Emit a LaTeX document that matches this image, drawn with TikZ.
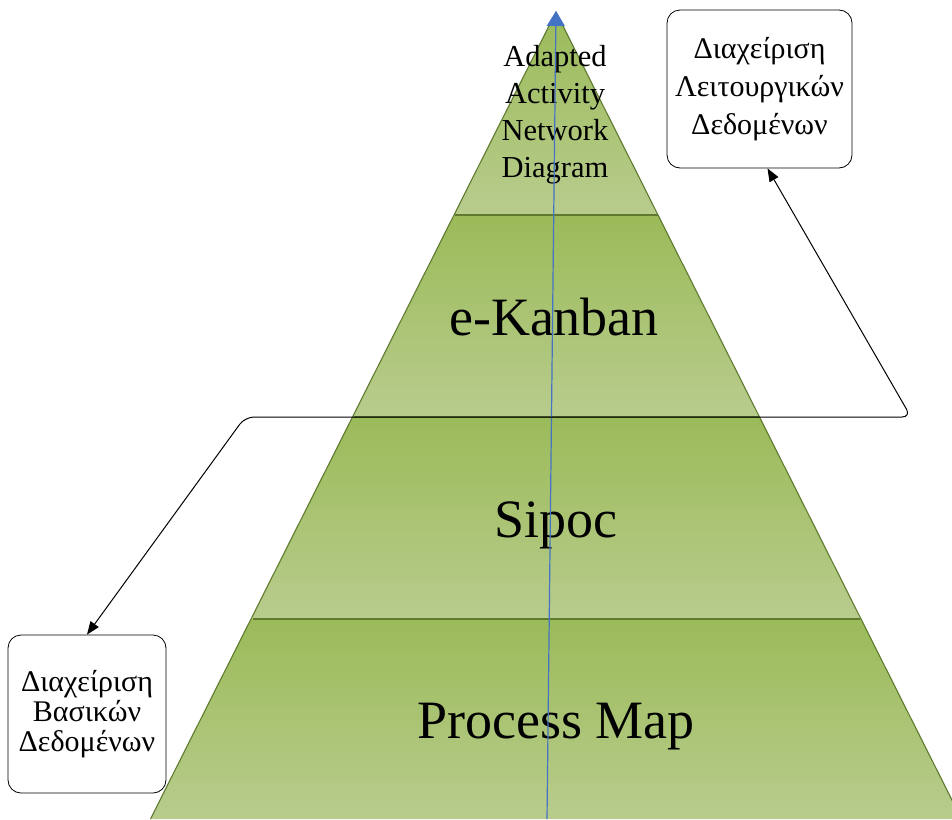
\documentclass[tikz,border=0pt]{standalone}
\usepackage{fontspec}
\setmainfont{Liberation Serif}
\usetikzlibrary{arrows.meta}
\definecolor{bandtop}{HTML}{9BBB59}
\definecolor{bandbot}{HTML}{B8CC8D}
\definecolor{tieredge}{HTML}{5F7A2F}
\definecolor{axisblue}{HTML}{4472C4}
\begin{document}
\begin{tikzpicture}[x=1pt,y=-1pt,
  caption/.style={font=\fontsize{30.5}{37}\selectfont, align=center, inner sep=0pt},
  tier/.style={font=\fontsize{54}{60}\selectfont, inner sep=0pt, anchor=base},
  infobox/.style={draw, rounded corners=13pt, line width=0.8pt, align=center,
    inner sep=0pt, font=\fontsize{30}{38}\selectfont},
  link/.style={line width=1pt, rounded corners=9pt,
    {Triangle[width=10pt,length=13pt]}-{Triangle[width=10pt,length=13pt]}},
  tierline/.style={draw=tieredge, line width=1.1pt}]
\useasboundingbox (0,0) rectangle (952,819);

% pyramid bands, each shaded from dark (top) to light (bottom)
\begin{scope}
  \clip (556,12) -- (150.5,819) -- (961.5,819) -- cycle;
  \shade[top color=bandtop, bottom color=bandbot] (100,12) rectangle (1000,215);
  \shade[top color=bandtop, bottom color=bandbot] (100,215) rectangle (1000,417);
  \shade[top color=bandtop, bottom color=bandbot] (100,417) rectangle (1000,619);
  \shade[top color=bandtop, bottom color=bandbot] (100,619) rectangle (1000,819);
\end{scope}
\draw[tierline] (150.5,819) -- (556,12) -- (961.5,819);
\draw[tierline] (454.5,215) -- (657.5,215);
\draw[tierline] (353.5,417) -- (758.5,417);
\draw[tierline] (252.5,619) -- (859.5,619);

% tier labels
\node[caption] (aand) at (555,115) {Adapted\\Activity\\Network\\Diagram};
\node[tier] (kanban) at (554,335) {e-Kanban};
\node[tier] (sipoc) at (556,537) {Sipoc};
\node[tier] (pmap) at (556,738) {Process Map};

% vertical axis through the pyramid
\coordinate (apex) at (556,11);
\coordinate (axisfoot) at (547,819);
\draw[axisblue, line width=1.2pt, -{Triangle[width=18pt,length=15pt]}] (axisfoot) -- (apex);

% data management boxes
\node[infobox, minimum width=185pt, minimum height=158pt] (rbox) at (759.5,89)
  {Διαχείριση\\Λειτουργικών\\Δεδομένων};
\node[infobox, minimum width=158pt, minimum height=158pt,
  font=\fontsize{30}{30}\selectfont] (lbox) at (87,714)
  {Διαχείριση\\Βασικών\\Δεδομένων};

% connector between the two boxes along the tier boundary
\coordinate (lbend) at (245,417);
\coordinate (rbend) at (911,417);
\draw[link] (lbox.north) -- (lbend) -- (rbend) -- ([xshift=8pt]rbox.south);
\end{tikzpicture}
\end{document}
